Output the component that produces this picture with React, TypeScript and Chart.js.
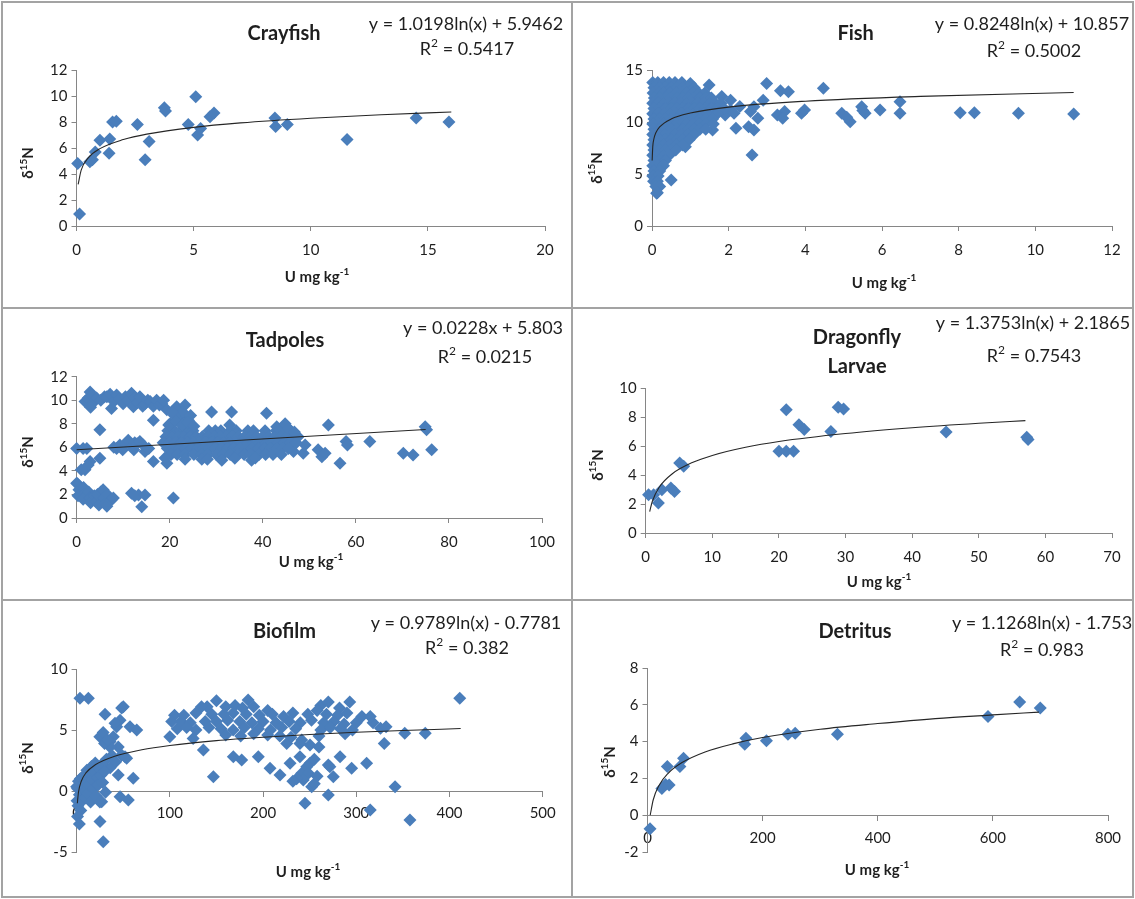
import React, { useEffect, useRef } from 'react';
import { Chart, registerables } from 'chart.js';

Chart.register(...registerables);

type Pt = [number, number];

// ---------------- DATA ----------------
const crayfishPoints: Pt[] = [
  [0.05, 4.8], [0.13, 0.92], [0.57, 4.95], [0.68, 5.1], [0.8, 5.7], [1.0, 6.6], [1.39, 5.6], [1.42, 6.7],
  [1.54, 8.0], [1.7, 8.05], [2.6, 7.8], [2.93, 5.1], [3.1, 6.5], [3.75, 9.1], [3.8, 8.85], [4.77, 7.8],
  [5.09, 9.95], [5.17, 7.0], [5.3, 7.5], [5.7, 8.4], [5.87, 8.7], [8.47, 8.3], [8.5, 7.65], [9.0, 7.8],
  [11.55, 6.65], [14.5, 8.3], [15.9, 8.0],
];
const crayfishTrend: Pt[] = [
  [0.07, 3.2], [0.2, 4.3], [0.5, 5.24], [1, 5.95], [2, 6.65], [3, 7.07], [5, 7.59], [7, 7.93], [10, 8.29], [13, 8.56], [16, 8.77],
];

const fishClusterPoints: Pt[] = [
  [0.02, 13.8], [0.15, 13.8], [0.3, 13.8], [0.45, 13.8], [0.6, 13.8], [0.78, 13.8], [1.0, 13.7],
  [0.05, 13.3], [0.2, 13.3], [0.35, 13.3], [0.5, 13.3], [0.65, 13.3], [0.8, 13.3], [0.95, 13.3], [1.1, 13.3],
  [0.03, 12.8], [0.18, 12.8], [0.32, 12.8], [0.48, 12.8], [0.62, 12.8], [0.77, 12.8], [0.92, 12.8], [1.08, 12.8], [1.22, 12.8], [1.38, 12.8],
  [0.06, 12.3], [0.2, 12.3], [0.36, 12.3], [0.5, 12.3], [0.66, 12.3], [0.8, 12.3], [0.95, 12.3], [1.1, 12.3], [1.25, 12.3], [1.4, 12.3], [1.55, 12.3],
  [0.02, 11.8], [0.16, 11.8], [0.3, 11.8], [0.45, 11.8], [0.6, 11.8], [0.75, 11.8], [0.9, 11.8], [1.05, 11.8], [1.2, 11.8], [1.35, 11.8], [1.5, 11.8], [1.65, 11.8], [1.8, 11.8],
  [0.05, 11.3], [0.2, 11.3], [0.35, 11.3], [0.5, 11.3], [0.65, 11.3], [0.8, 11.3], [0.95, 11.3], [1.1, 11.3], [1.25, 11.3], [1.4, 11.3], [1.55, 11.3], [1.7, 11.3], [1.88, 11.3],
  [0.02, 10.8], [0.17, 10.8], [0.32, 10.8], [0.47, 10.8], [0.62, 10.8], [0.77, 10.8], [0.92, 10.8], [1.07, 10.8], [1.22, 10.8], [1.37, 10.8], [1.52, 10.8], [1.7, 10.8],
  [0.05, 10.3], [0.2, 10.3], [0.35, 10.3], [0.5, 10.3], [0.65, 10.3], [0.8, 10.3], [0.95, 10.3], [1.1, 10.3], [1.25, 10.3], [1.4, 10.3], [1.58, 10.3],
  [0.02, 9.8], [0.17, 9.8], [0.32, 9.8], [0.47, 9.8], [0.62, 9.8], [0.77, 9.8], [0.92, 9.8], [1.07, 9.8], [1.22, 9.8], [1.4, 9.8], [1.6, 9.8],
  [0.05, 9.3], [0.2, 9.3], [0.35, 9.3], [0.5, 9.3], [0.65, 9.3], [0.8, 9.3], [0.95, 9.3], [1.1, 9.3], [1.25, 9.3], [1.4, 9.3],
  [0.02, 8.8], [0.17, 8.8], [0.32, 8.8], [0.47, 8.8], [0.62, 8.8], [0.77, 8.8], [0.92, 8.8], [1.1, 8.8],
  [0.05, 8.3], [0.2, 8.3], [0.35, 8.3], [0.5, 8.3], [0.65, 8.3], [0.8, 8.3], [0.97, 8.3],
  [0.02, 7.8], [0.17, 7.8], [0.32, 7.8], [0.47, 7.8], [0.62, 7.8], [0.8, 7.8],
  [0.05, 7.3], [0.2, 7.3], [0.35, 7.3], [0.5, 7.3], [0.62, 7.3],
  [0.02, 6.8], [0.15, 6.8], [0.3, 6.8], [0.45, 6.8],
  [0.05, 6.3], [0.2, 6.3], [0.35, 6.3],
  [0.02, 5.8], [0.15, 5.8], [0.3, 5.8],
  [0.05, 5.3], [0.2, 5.3],
  [0.02, 4.8], [0.16, 4.8],
  [0.04, 4.3], [0.14, 4.3],
  [0.1, 3.8], [0.2, 3.8],
  [0.14, 3.2],
];
const fishOuterPoints: Pt[] = [
  [1.49, 13.55], [2.99, 13.7], [3.35, 13.0], [3.56, 12.9], [4.47, 13.24], [6.47, 11.95], [6.47, 10.83],
  [5.95, 11.15], [5.47, 11.47], [5.56, 10.83], [5.5, 11.1], [4.95, 10.83], [5.17, 10.03], [5.08, 10.45],
  [3.9, 10.83], [3.98, 11.15], [3.46, 11.0], [3.27, 10.67], [3.41, 10.35], [8.04, 10.9], [8.41, 10.9],
  [9.56, 10.83], [11.0, 10.77], [2.66, 9.23], [2.52, 9.55], [2.19, 9.4], [1.91, 10.67], [2.05, 11.15],
  [1.82, 12.45], [2.05, 12.1], [2.29, 11.5], [2.57, 11.0], [2.66, 11.47], [2.9, 12.1], [2.14, 10.83],
  [2.76, 10.35], [2.61, 6.83], [1.58, 9.23], [0.87, 7.63], [0.5, 4.42], [0.12, 3.14],
];
const fishTrend: Pt[] = [
  [0.004, 6.3], [0.02, 7.63], [0.05, 8.39], [0.1, 8.96], [0.2, 9.53], [0.5, 10.29], [1, 10.86], [2, 11.43], [4, 12.0], [7, 12.46], [11, 12.83],
];

const tadpoleLowPoints: Pt[] = [
  [0.2, 2.9], [0.0, 2.95], [0.5, 2.4], [0.3, 1.9], [1.5, 2.6], [1.6, 2.0], [1.4, 1.6], [2.6, 2.2], [2.8, 1.7],
  [3.0, 1.3], [3.8, 1.9], [4.2, 1.4], [4.8, 1.1], [4.5, 2.0], [5.2, 2.2], [5.7, 2.4], [5.9, 1.7], [6.3, 1.3],
  [6.6, 2.0], [6.5, 1.0], [7.4, 1.5], [7.9, 1.7], [11.8, 2.1], [12.5, 1.9], [13.3, 1.95], [14.7, 1.95],
  [14.0, 0.96], [20.8, 1.7],
];
const tadpoleMidPoints: Pt[] = [
  [0.0, 5.9], [1.4, 5.9], [2.2, 5.9], [5.0, 7.5], [5.0, 5.07], [2.9, 4.8], [1.8, 4.1], [2.5, 4.5], [1.0, 4.1],
  [8.0, 6.0], [8.6, 5.9], [9.3, 6.2], [9.9, 5.8], [10.5, 6.3], [11.1, 6.6], [11.8, 6.1], [12.3, 5.8],
  [12.5, 6.4], [13.0, 6.3], [13.6, 6.5], [14.3, 6.2], [14.7, 5.65], [15.5, 5.9], [16.5, 4.8], [19.4, 4.65], [19.0, 5.1],
];
const tadpoleHighPoints: Pt[] = [
  [1.8, 9.9], [2.5, 10.2], [2.9, 10.7], [3.3, 10.4], [3.6, 9.8], [3.0, 9.4], [4.3, 10.2], [5.2, 10.0], [6.0, 10.3],
  [6.5, 10.3], [7.2, 10.5], [7.5, 9.3], [8.0, 9.9], [8.6, 10.45], [9.2, 10.1], [10.0, 9.7], [10.5, 10.3],
  [11.0, 10.0], [11.8, 10.6], [12.2, 9.45], [12.6, 10.2], [13.0, 9.8], [13.6, 10.3], [14.2, 9.5], [14.7, 9.7],
  [15.3, 10.0], [15.8, 9.9], [16.5, 9.5], [17.2, 10.0], [17.8, 9.6], [18.3, 9.7], [18.7, 10.0], [19.4, 9.2],
  [16.5, 8.3], [20.1, 8.0], [21.5, 9.45], [22.2, 8.6], [23.3, 9.6], [24.0, 8.3], [22.8, 9.0], [21.0, 8.7],
  [20.5, 9.0], [23.0, 8.0], [24.5, 8.7], [19.8, 7.9], [21.2, 8.2], [22.6, 7.9], [23.9, 8.1], [25.2, 7.8],
  [29.0, 9.0], [33.3, 9.0], [40.8, 8.9], [32.9, 7.9], [43.0, 7.75], [44.8, 8.0], [45.5, 7.6], [46.8, 7.3],
];
const tadpoleBandPoints: Pt[] = [
  [19.6, 7.4], [21.0, 7.4], [22.3, 7.4], [23.6, 7.4], [25.0, 7.4], [28.4, 7.4], [29.8, 7.4], [31.0, 7.4], [33.0, 7.4],
  [34.3, 7.4], [36.8, 7.4], [38.0, 7.4], [40.5, 7.4], [42.9, 7.4], [44.5, 7.4], [46.0, 7.4],
  [19.2, 6.9], [20.5, 6.9], [21.8, 6.9], [23.1, 6.9], [24.4, 6.9], [25.7, 6.9], [27.0, 6.9], [28.3, 6.9],
  [29.6, 6.9], [30.9, 6.9], [32.2, 6.9], [33.5, 6.9], [34.8, 6.9], [36.1, 6.9], [37.4, 6.9], [38.7, 6.9],
  [40.0, 6.9], [41.3, 6.9], [42.6, 6.9], [43.9, 6.9], [45.2, 6.9], [46.5, 6.9], [47.6, 6.9],
  [18.6, 6.4], [19.9, 6.4], [21.2, 6.4], [22.5, 6.4], [23.8, 6.4], [25.1, 6.4], [26.4, 6.4], [27.7, 6.4],
  [29.0, 6.4], [30.3, 6.4], [31.6, 6.4], [32.9, 6.4], [34.2, 6.4], [35.5, 6.4], [36.8, 6.4], [38.1, 6.4],
  [39.4, 6.4], [40.7, 6.4], [42.0, 6.4], [43.3, 6.4], [44.6, 6.4], [45.9, 6.4], [47.2, 6.4],
  [19.5, 5.9], [20.8, 5.9], [22.1, 5.9], [23.4, 5.9], [24.7, 5.9], [26.0, 5.9], [27.3, 5.9], [28.6, 5.9],
  [29.9, 5.9], [31.2, 5.9], [32.5, 5.9], [33.8, 5.9], [35.1, 5.9], [36.4, 5.9], [37.7, 5.9], [39.0, 5.9],
  [40.3, 5.9], [41.6, 5.9], [42.9, 5.9], [44.2, 5.9], [45.5, 5.9],
  [20.3, 5.4], [21.6, 5.4], [23.3, 5.4], [25.2, 5.4], [26.9, 5.4], [28.2, 5.4], [30.0, 5.4], [31.5, 5.4],
  [33.0, 5.4], [34.6, 5.4], [36.0, 5.4], [37.4, 5.4], [39.2, 5.4], [40.6, 5.4], [42.2, 5.4], [44.0, 5.4],
  [23.3, 5.0], [26.9, 5.0], [28.1, 5.0], [31.2, 4.9], [34.0, 5.07], [37.6, 4.9], [38.4, 5.1],
];
const tadpoleRightPoints: Pt[] = [
  [54.1, 7.9], [57.9, 6.5], [58.2, 6.2], [63.0, 6.5], [56.6, 4.65], [52.7, 5.2], [51.9, 5.8], [53.4, 5.5],
  [48.7, 5.5], [46.6, 5.65], [49.1, 6.2], [74.9, 7.75], [75.2, 7.5], [70.2, 5.5], [72.3, 5.35], [76.3, 5.8],
];
const tadpoleTrend: Pt[] = [[0, 5.8], [75, 7.51]];

const dragonflyPoints: Pt[] = [
  [0.43, 2.64], [1.19, 2.64], [1.9, 2.07], [2.43, 2.99], [3.78, 3.1], [4.32, 2.87], [5.1, 4.83], [5.7, 4.6],
  [20.0, 5.63], [21.1, 5.63], [22.2, 5.63], [21.1, 8.5], [23.0, 7.47], [23.8, 7.13], [27.8, 7.0], [28.9, 8.67],
  [29.7, 8.55], [45.1, 6.97], [57.2, 6.6], [57.4, 6.44],
];
const dragonflyTrend: Pt[] = [
  [0.6, 1.48], [1, 2.19], [2, 3.14], [4, 4.09], [7, 4.86], [10, 5.35], [15, 5.91], [20, 6.31], [30, 6.86], [40, 7.26], [50, 7.57], [57, 7.75],
];

const biofilmLowPoints: Pt[] = [
  [0.5, -0.8], [1, 0.2], [1.5, -1.2], [2, 0.8], [3, -0.3], [4, 1.0], [4.5, -1.6], [5, 0.4], [6, -0.8], [7, 1.2],
  [8, 0.1], [9, -0.6], [10, 0.8], [11, 1.7], [12, -0.2], [13, 0.5], [14, 1.4], [15, -0.9], [16, 2.0], [17, 0.9],
  [18, 0.2], [19, 1.6], [20, 2.3], [21, -0.4], [22, 1.1], [23, 0.5], [24, 1.9], [26, 1.3], [27, 2.2], [28, 0.7],
  [30, 1.6], [31, -0.1], [25, -0.9], [1, -2.1], [3, -2.7], [0, 0.35], [3.6, 7.6], [12.6, 7.6],
];
const biofilmMidPoints: Pt[] = [
  [30.5, 6.3], [48.4, 6.8], [50.1, 6.9], [24.9, 4.45], [28.5, 4.8], [35.8, 4.04], [39.4, 4.45], [43.0, 5.27],
  [46.6, 5.8], [44.7, 3.6], [48.3, 2.95], [53.7, 2.68], [57.3, 5.27], [64.5, 5.0], [51.9, 2.81], [44.7, 1.31],
  [60.8, 1.04], [46.6, -0.47], [55.5, -0.74], [26.9, -0.88], [25.1, -2.5], [28.6, -4.16], [35.8, 3.6], [30, 3.9],
  [33, 4.2], [38, 2.9], [41.2, 5.55], [32, 2.6], [36, 1.9], [42, 2.4],
];
const biofilmBandPoints: Pt[] = [
  [140, 6.9], [150, 7.4], [160, 6.9], [170, 7.0], [178, 6.8], [184, 7.46], [190, 6.9], [205, 6.6], [262, 7.0], [270, 7.3], [282, 6.8], [293, 7.3],
  [105, 6.2], [115, 6.2], [128, 6.4], [134, 6.9], [145, 6.3], [158, 6.3], [168, 6.4], [182, 6.3], [196, 6.2], [210, 6.3],
  [222, 6.1], [232, 6.4], [248, 6.3], [258, 6.6], [268, 6.3], [280, 6.2], [290, 6.4], [306, 6.1],
  [102, 5.7], [112, 5.7], [122, 5.6], [138, 5.7], [150, 5.7], [162, 5.8], [175, 5.7], [188, 5.6], [200, 5.7],
  [214, 5.6], [228, 5.7], [240, 5.6], [252, 5.8], [265, 5.6], [276, 5.7], [287, 5.5], [300, 5.6], [318, 5.6],
  [108, 5.1], [118, 5.2], [128, 5.0], [142, 5.2], [155, 5.1], [168, 5.0], [180, 5.2], [195, 5.1], [208, 5.0],
  [220, 5.2], [235, 5.1], [262, 5.0], [272, 5.2], [283, 5.1], [296, 5.0], [326, 5.14], [332, 5.27],
  [100, 4.45], [125, 4.3], [160, 4.6], [176, 4.5], [190, 4.7], [205, 4.6], [218, 4.5], [230, 4.4], [260, 4.5],
  [288, 4.7], [330, 3.9], [352, 4.73], [374, 4.73], [411, 7.6], [315, 6.1], [136, 3.36],
];
const biofilmScatterPoints: Pt[] = [
  [146.7, 1.17], [168.1, 2.8], [177.1, 2.54], [194.9, 2.81], [207.5, 1.86], [218.2, 1.31], [225.4, 3.9],
  [229, 2.27], [239.6, 3.9], [241.5, 1.45], [245, -1.0], [250.4, 2.27], [282.6, 2.81], [270, 2.13],
  [271.7, 1.99], [295, 1.86], [311.1, 2.27], [275.4, 1.17], [270, -0.33], [315, -1.56], [341.6, 0.35],
  [357.6, -2.38], [246.9, 1.99], [248.7, 1.45], [243.2, 0.9], [252.2, 0.35], [239.6, 2.8], [250.4, 3.77],
  [241.5, 4.18], [255, 0.6], [258, 1.2], [236, 1.0], [232, 0.8], [260, 3.6], [255, 2.6],
];
const biofilmTrend: Pt[] = [
  [0.8, -1.0], [2, -0.1], [5, 0.8], [10, 1.48], [20, 2.15], [40, 2.83], [70, 3.38], [100, 3.73], [150, 4.13],
  [200, 4.41], [250, 4.63], [300, 4.81], [350, 4.96], [412, 5.12],
];

const detritusPoints: Pt[] = [
  [4.4, -0.73], [25, 1.45], [31.3, 1.67], [34.4, 2.64], [37.6, 1.64], [56.3, 2.64], [62.6, 3.09], [169, 3.85],
  [171, 4.18], [206.6, 4.04], [244, 4.4], [256.6, 4.45], [330, 4.4], [591.5, 5.36], [646.6, 6.15], [682.3, 5.82],
];
const detritusTrend: Pt[] = [
  [4.7, 0], [10, 0.84], [20, 1.62], [35, 2.25], [60, 2.86], [100, 3.44], [150, 3.89], [200, 4.22], [300, 4.67],
  [400, 4.98], [500, 5.25], [600, 5.45], [680, 5.6],
];

const panelTitles: string[][] = [['Crayfish'], ['Fish'], ['Tadpoles'], ['Dragonfly', 'Larvae'], ['Biofilm'], ['Detritus']];
const equations: string[] = [
  'y = 1.0198ln(x) + 5.9462', 'y = 0.8248ln(x) + 10.857', 'y = 0.0228x + 5.803',
  'y = 1.3753ln(x) + 2.1865', 'y = 0.9789ln(x) - 0.7781', 'y = 1.1268ln(x) - 1.753',
];
const rSquared: string[] = ['0.5417', '0.5002', '0.0215', '0.7543', '0.382', '0.983'];
// axis ranges: [min, max, step]
const xRanges: [number, number, number][] = [[0, 20, 5], [0, 12, 2], [0, 100, 20], [0, 70, 10], [0, 500, 100], [0, 800, 200]];
const yRanges: [number, number, number][] = [[0, 12, 2], [0, 15, 5], [0, 12, 2], [0, 10, 2], [-5, 10, 5], [-2, 8, 2]];
const xAxisTitle = 'U mg kg';
const xAxisTitleSup = '-1';

// ---------------- LAYOUT ----------------
const BLUE = '#4a7ebb';
const AXIS = '#868686';
const TEXT = '#1e1e1e';
const FONT = 'Lato, "Liberation Sans", sans-serif';

type Seg = { t: string; sup?: boolean };
interface Spec {
  box: [number, number, number, number];
  area: [number, number, number, number]; // l, t, r, b relative
  series: Pt[][];
  trend: Pt[];
  idx: number;
  xAtZero: boolean;
  tickPad: number;
  titlePos: [number, number][];
  eqPos: [number, number];
  r2Pos: [number, number];
  xTitlePos: [number, number];
  yTitlePos: [number, number];
}

const specs: Spec[] = [
  { box: [3, 3, 568, 304], area: [73.5, 67, 542, 223], series: [crayfishPoints], trend: crayfishTrend, idx: 0, xAtZero: false, tickPad: 10,
    titlePos: [[281, 31]], eqPos: [463, 21], r2Pos: [464, 46], xTitlePos: [314, 274], yTitlePos: [25.5, 160] },
  { box: [573, 3, 559, 304], area: [79, 67, 539, 223], series: [fishClusterPoints, fishOuterPoints], trend: fishTrend, idx: 1, xAtZero: false, tickPad: 10,
    titlePos: [[282.6, 31]], eqPos: [459, 21], r2Pos: [461, 48], xTitlePos: [311, 280], yTitlePos: [24, 165] },
  { box: [3, 309, 568, 290], area: [73.6, 67.7, 539, 209], series: [tadpoleLowPoints, tadpoleMidPoints, tadpoleHighPoints, tadpoleBandPoints, tadpoleRightPoints], trend: tadpoleTrend, idx: 2, xAtZero: false, tickPad: 10,
    titlePos: [[282, 32]], eqPos: [480, 19], r2Pos: [482, 48], xTitlePos: [308, 253], yTitlePos: [25.5, 143] },
  { box: [573, 309, 559, 290], area: [72.7, 79, 539, 224], series: [dragonflyPoints], trend: dragonflyTrend, idx: 3, xAtZero: false, tickPad: 10,
    titlePos: [[284, 29], [284, 58]], eqPos: [460, 14], r2Pos: [461, 47], xTitlePos: [306, 273], yTitlePos: [25, 156] },
  { box: [3, 601, 568, 295], area: [73.6, 68, 539.7, 251], series: [biofilmLowPoints, biofilmMidPoints, biofilmBandPoints, biofilmScatterPoints], trend: biofilmTrend, idx: 4, xAtZero: true, tickPad: 8,
    titlePos: [[281.5, 31]], eqPos: [463, 22], r2Pos: [464, 47], xTitlePos: [305, 271], yTitlePos: [24.7, 157] },
  { box: [573, 601, 559, 295], area: [74.5, 67, 535, 251], series: [detritusPoints], trend: detritusTrend, idx: 5, xAtZero: true, tickPad: 9,
    titlePos: [[282, 31]], eqPos: [469, 22], r2Pos: [469, 49], xTitlePos: [304, 269], yTitlePos: [37, 161] },
];

function drawRich(ctx: CanvasRenderingContext2D, segs: Seg[], x: number, y: number, size: number, weight: string, rotate = false) {
  ctx.save();
  ctx.translate(x, y);
  if (rotate) ctx.rotate(-Math.PI / 2);
  const fN = `${weight} ${size}px ${FONT}`;
  const fS = `${weight} ${Math.round(size * 0.68)}px ${FONT}`;
  let w = 0;
  for (const s of segs) { ctx.font = s.sup ? fS : fN; w += ctx.measureText(s.t).width; }
  let cx = -w / 2;
  ctx.textAlign = 'left';
  ctx.textBaseline = 'middle';
  ctx.fillStyle = TEXT;
  for (const s of segs) {
    ctx.font = s.sup ? fS : fN;
    ctx.fillText(s.t, cx, s.sup ? -size * 0.32 : 0);
    cx += ctx.measureText(s.t).width;
  }
  ctx.restore();
}

function Panel({ spec }: { spec: Spec }) {
  const ref = useRef<HTMLCanvasElement>(null);
  useEffect(() => {
    if (!ref.current) return;
    const [, , W, H] = spec.box;
    const [l, t, r, b] = spec.area;
    const [xMin, xMax, xStep] = xRanges[spec.idx];
    const [yMin, yMax, yStep] = yRanges[spec.idx];
    const padLeft = 8;
    const textPlugin = {
      id: 'panelText',
      afterDraw(chart: any) {
        const ctx = chart.ctx as CanvasRenderingContext2D;
        panelTitles[spec.idx].forEach((line, i) => {
          const p = spec.titlePos[i];
          drawRich(ctx, [{ t: line }], p[0], p[1], 20, 'bold');
        });
        drawRich(ctx, [{ t: equations[spec.idx] }], spec.eqPos[0], spec.eqPos[1], 18, 'normal');
        drawRich(ctx, [{ t: 'R' }, { t: '2', sup: true }, { t: ' = ' + rSquared[spec.idx] }], spec.r2Pos[0], spec.r2Pos[1], 18, 'normal');
        drawRich(ctx, [{ t: xAxisTitle }, { t: xAxisTitleSup, sup: true }], spec.xTitlePos[0], spec.xTitlePos[1], 15, 'bold');
        drawRich(ctx, [{ t: 'δ' }, { t: '15', sup: true }, { t: 'N' }], spec.yTitlePos[0], spec.yTitlePos[1], 15, 'bold', true);
      },
    };
    const scatterSets = spec.series.map((pts) => ({
      data: pts.map(([x, y]) => ({ x, y })),
      pointStyle: 'rectRot' as const,
      pointRadius: 6.5,
      backgroundColor: BLUE,
      borderColor: BLUE,
      borderWidth: 0,
      showLine: false,
      clip: false as const,
    }));
    const chart = new Chart(ref.current, {
      type: 'scatter',
      data: {
        datasets: [
          {
            data: spec.trend.map(([x, y]) => ({ x, y })),
            showLine: true,
            pointRadius: 0,
            borderColor: '#262626',
            borderWidth: 1.1,
            cubicInterpolationMode: 'monotone',
            clip: false,
          } as any,
          ...scatterSets,
        ],
      },
      options: {
        responsive: false,
        animation: false,
        events: [],
        layout: {
          padding: {
            left: padLeft,
            top: t,
            right: W - r,
            bottom: spec.xAtZero ? H - b : 0,
          },
        },
        plugins: { legend: { display: false }, tooltip: { enabled: false }, title: { display: false } },
        scales: {
          x: {
            type: 'linear',
            min: xMin,
            max: xMax,
            position: spec.xAtZero ? ({ y: 0 } as any) : 'bottom',
            ticks: { stepSize: xStep, autoSkip: false, maxRotation: 0, padding: spec.tickPad, color: TEXT, font: { size: 15, family: FONT } },
            grid: { drawOnChartArea: false, color: AXIS, tickLength: 5 },
            border: { color: AXIS, width: 1 },
            afterFit: (s: any) => { s.height = spec.xAtZero ? 30 : H - b; },
          },
          y: {
            type: 'linear',
            min: yMin,
            max: yMax,
            ticks: { stepSize: yStep, autoSkip: false, padding: 4, color: TEXT, font: { size: 15, family: FONT } },
            grid: { drawOnChartArea: false, color: AXIS, tickLength: 5 },
            border: { color: AXIS, width: 1 },
            afterFit: (s: any) => { s.width = l - padLeft; },
          },
        },
      },
      plugins: [textPlugin],
    });
    return () => chart.destroy();
  }, [spec]);
  const [x, y, w, h] = spec.box;
  return (
    <div style={{ position: 'absolute', left: x, top: y, width: w, height: h, background: '#ffffff' }}>
      <canvas ref={ref} width={w} height={h} style={{ display: 'block', width: w, height: h }} />
    </div>
  );
}

export default function App() {
  return (
    <div style={{ position: 'absolute', left: 0, top: 0, width: 1135, height: 899, background: '#ffffff', overflow: 'hidden' }}>
      <div style={{ position: 'absolute', left: 1, top: 1, width: 1133, height: 897, background: '#a3a3a3' }} />
      {specs.map((s, i) => <Panel key={i} spec={s} />)}
    </div>
  );
}
